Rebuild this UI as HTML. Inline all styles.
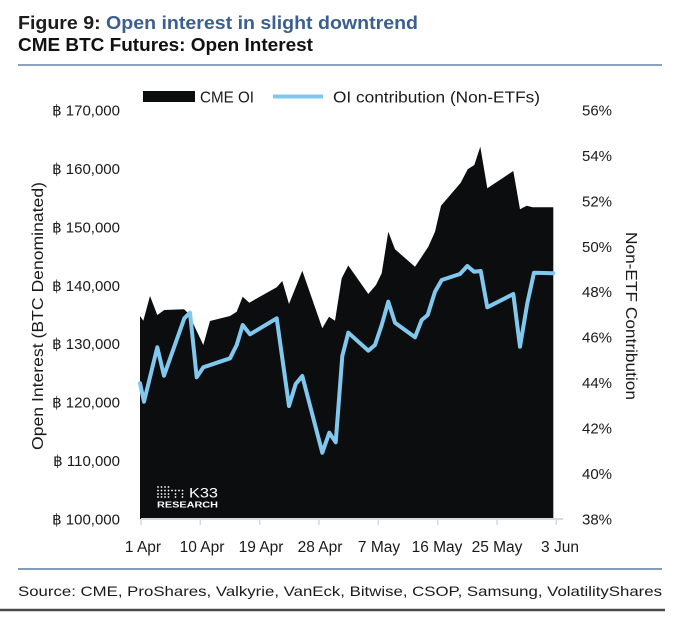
<!DOCTYPE html>
<html>
<head>
<meta charset="utf-8">
<style>
  html, body { margin:0; padding:0; background:#ffffff; }
  body { width:680px; height:618px; overflow:hidden; }
  svg { display:block; font-family:"Liberation Sans", "DejaVu Sans", sans-serif; }
</style>
</head>
<body>
<svg width="680" height="618" viewBox="0 0 680 618" xmlns="http://www.w3.org/2000/svg">
  <!-- Title -->
  <text x="18" y="29" font-size="18" font-weight="bold" fill="#1c1c1c" textLength="400" lengthAdjust="spacingAndGlyphs">Figure 9: <tspan fill="#3b5f8e">Open interest in slight downtrend</tspan></text>
  <text x="18" y="51" font-size="18" font-weight="bold" fill="#111111" textLength="295" lengthAdjust="spacingAndGlyphs">CME BTC Futures: Open Interest</text>
  <line x1="18" y1="65" x2="662" y2="65" stroke="#6784a8" stroke-width="1.5"/>

  <!-- Legend -->
  <rect x="143" y="91" width="52" height="11" fill="#0b0d0f"/>
  <text x="200" y="102.5" font-size="16" fill="#1a1a1a" textLength="54" lengthAdjust="spacingAndGlyphs">CME OI</text>
  <line x1="273" y1="96.5" x2="323" y2="96.5" stroke="#80c8ee" stroke-width="4"/>
  <text x="333" y="102.5" font-size="16" fill="#1a1a1a" textLength="207" lengthAdjust="spacingAndGlyphs">OI contribution (Non-ETFs)</text>

  <!-- Area: CME OI -->
  <polygon fill="#0b0d0f" points="140,519 140,316 143.3,320.7 150,296 157.3,315 164.3,310 184,309.3 188.3,313.3 203.3,345 210,321 230,316 236.7,311.7 242.7,296.7 249.3,302.7 276.7,287.3 282.3,281 289,304 302.3,270.7 322.3,328.3 329,316.7 335,320.7 341.7,278.3 348.3,265.5 368.3,294 376,285 381.7,273.3 388.3,231.7 395,249.3 415,266.7 421.7,256.7 428.3,246.7 435,231.7 441,205.7 460.7,182.7 467.7,169.3 474.3,165 480.3,146.7 487.3,188.3 513.3,171 520,209.3 526.7,205.7 532.7,207.3 553.3,207.3 553.3,519"/>

  <!-- Line: OI contribution -->
  <polyline fill="none" stroke="#80c8ee" stroke-width="4" stroke-linejoin="round" stroke-linecap="round" points="140,383.3 144,401.7 157.3,347.3 164,375.7 184.3,318.3 190,312.7 196.7,377.3 203.3,367.3 230,358.3 236.7,345 242.7,325 250,334.3 276.7,318.3 289,406 295.7,384 302.3,376 322.3,452.7 329.3,432.7 335.7,442.3 342.3,356 348.3,332.7 368.3,350.7 375,345 381.7,325 388.3,301.7 395,322.7 415,337.3 421.7,320 427.7,315 435,291.7 441.7,280 460,274 467.3,266 474,271.7 480.7,271 487.3,307.3 513.3,294 520,346.7 527.3,303.3 534,272.7 553.3,273.3"/>

  <!-- K33 logo -->
  <g fill="#ffffff">
    <g>
      <circle cx="158" cy="487" r="0.9"/><circle cx="161.5" cy="487" r="0.9"/><circle cx="165" cy="487" r="0.9"/><circle cx="168.5" cy="487" r="0.9"/>
      <circle cx="158" cy="490.5" r="0.9"/><circle cx="161.5" cy="490.5" r="0.9"/><circle cx="165" cy="490.5" r="0.9"/><circle cx="168.5" cy="490.5" r="0.9"/><circle cx="172" cy="490.5" r="0.9"/><circle cx="175.5" cy="490.5" r="0.9"/><circle cx="179" cy="490.5" r="0.9"/><circle cx="182.5" cy="490.5" r="0.9"/>
      <circle cx="158" cy="494" r="0.9"/><circle cx="161.5" cy="494" r="0.9"/><circle cx="165" cy="494" r="0.9"/><circle cx="168.5" cy="494" r="0.9"/><circle cx="175.5" cy="494" r="0.9"/><circle cx="182.5" cy="494" r="0.9"/>
      <circle cx="158" cy="497" r="0.9"/><circle cx="161.5" cy="497" r="0.9"/><circle cx="165" cy="497" r="0.9"/><circle cx="168.5" cy="497" r="0.9"/><circle cx="175.5" cy="497" r="0.9"/><circle cx="182.5" cy="497" r="0.9"/>
    </g>
    <text x="189" y="497.5" font-size="14" textLength="29" lengthAdjust="spacingAndGlyphs">K33</text>
    <text x="157" y="507.5" font-size="8" font-weight="bold" textLength="61" lengthAdjust="spacingAndGlyphs">RESEARCH</text>
  </g>

  <!-- X axis -->
  <line x1="141" y1="519" x2="563" y2="519" stroke="#d9d9d9" stroke-width="2"/>
  <g stroke="#d9d9d9" stroke-width="1.5">
    <line x1="141" y1="519" x2="141" y2="525"/>
    <line x1="200.3" y1="519" x2="200.3" y2="525"/>
    <line x1="259.7" y1="519" x2="259.7" y2="525"/>
    <line x1="319" y1="519" x2="319" y2="525"/>
    <line x1="378.3" y1="519" x2="378.3" y2="525"/>
    <line x1="437.7" y1="519" x2="437.7" y2="525"/>
    <line x1="497" y1="519" x2="497" y2="525"/>
    <line x1="556.3" y1="519" x2="556.3" y2="525"/>
  </g>
  <g font-size="15.5" fill="#1a1a1a" text-anchor="middle">
    <text x="143" y="552">1 Apr</text>
    <text x="202" y="552">10 Apr</text>
    <text x="261" y="552">19 Apr</text>
    <text x="320" y="552">28 Apr</text>
    <text x="379" y="552">7 May</text>
    <text x="437" y="552">16 May</text>
    <text x="497" y="552">25 May</text>
    <text x="560" y="552">3 Jun</text>
  </g>

  <!-- Left axis labels -->
  <g font-size="15" fill="#1a1a1a" text-anchor="end">
    <text x="120" y="115.5">฿ 170,000</text>
    <text x="120" y="174">฿ 160,000</text>
    <text x="120" y="232.5">฿ 150,000</text>
    <text x="120" y="291">฿ 140,000</text>
    <text x="120" y="349">฿ 130,000</text>
    <text x="120" y="407.5">฿ 120,000</text>
    <text x="120" y="466">฿ 110,000</text>
    <text x="120" y="524.5">฿ 100,000</text>
  </g>

  <!-- Right axis labels -->
  <g font-size="15" fill="#1a1a1a">
    <text x="582" y="115.5">56%</text>
    <text x="582" y="161">54%</text>
    <text x="582" y="206.5">52%</text>
    <text x="582" y="252">50%</text>
    <text x="582" y="297">48%</text>
    <text x="582" y="342.5">46%</text>
    <text x="582" y="388">44%</text>
    <text x="582" y="433.5">42%</text>
    <text x="582" y="479">40%</text>
    <text x="582" y="524.5">38%</text>
  </g>

  <!-- Axis titles -->
  <text transform="translate(43,316) rotate(-90)" font-size="16" fill="#1a1a1a" text-anchor="middle" textLength="268" lengthAdjust="spacingAndGlyphs">Open Interest (BTC Denominated)</text>
  <text transform="translate(626,316) rotate(90)" font-size="16" fill="#1a1a1a" text-anchor="middle" textLength="168" lengthAdjust="spacingAndGlyphs">Non-ETF Contribution</text>

  <!-- Footer -->
  <line x1="18" y1="569" x2="662" y2="569" stroke="#5c7ba5" stroke-width="1.5"/>
  <text x="18" y="596" font-size="14" fill="#1a1a1a" textLength="644" lengthAdjust="spacingAndGlyphs">Source: CME, ProShares, Valkyrie, VanEck, Bitwise, CSOP, Samsung, VolatilityShares</text>
  <line x1="0" y1="610" x2="665" y2="610" stroke="#4a4a4a" stroke-width="2.5"/>
</svg>
</body>
</html>
